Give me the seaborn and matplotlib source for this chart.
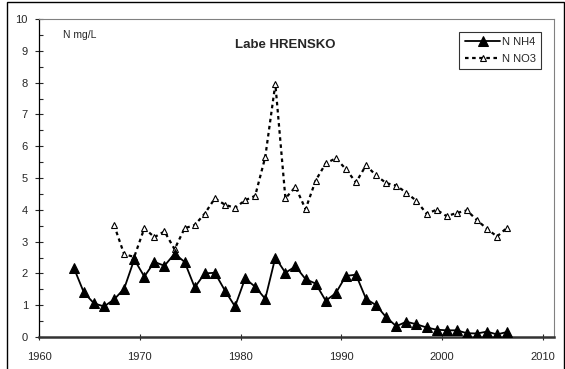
import matplotlib
matplotlib.use("Agg")
import matplotlib.pyplot as plt
from matplotlib.patches import Rectangle
from matplotlib.ticker import MultipleLocator
import seaborn as sns
import numpy as np

# ---- data ----
years_nh4 = list(range(1963, 2007))
nh4 = [2.18, 1.40, 1.06, 0.96, 1.18, 1.52, 2.44, 1.90, 2.36, 2.24,
       2.62, 2.36, 1.56, 2.00, 2.02, 1.46, 0.96, 1.84, 1.58, 1.20,
       2.50, 2.02, 2.22, 1.82, 1.68, 1.14, 1.38, 1.92, 1.96, 1.20,
       1.00, 0.62, 0.34, 0.48, 0.40, 0.30, 0.23, 0.21, 0.21, 0.12,
       0.11, 0.17, 0.08, 0.16]
years_no3 = list(range(1967, 2007))
no3 = [3.52, 2.60, 2.52, 3.42, 3.14, 3.32, 2.76, 3.42, 3.52, 3.88,
       4.36, 4.16, 4.06, 4.30, 4.44, 5.66, 7.96, 4.36, 4.72, 4.02,
       4.92, 5.46, 5.62, 5.28, 4.86, 5.40, 5.08, 4.84, 4.76, 4.54,
       4.28, 3.88, 4.00, 3.80, 3.90, 3.98, 3.68, 3.40, 3.16, 3.44]
x_offset = 0.45  # annual values plotted mid-year
y_ticks = list(range(0, 11))
x_ticks = [1960, 1970, 1980, 1990, 2000, 2010]

sns.set_style("white")
plt.rcParams['font.family'] = ['Liberation Sans', 'DejaVu Sans']

fig = plt.figure(figsize=(5.65, 3.69), dpi=100)
ax = fig.add_axes([39/565, 1-337/369, (554-39)/565, (337-19)/369])

sns.lineplot(x=np.array(years_no3) + x_offset, y=no3, ax=ax, color='black',
             linestyle=(0, (1.6, 1.6)), linewidth=1.6, marker='^',
             markersize=4.5, markerfacecolor='white', markeredgecolor='black',
             markeredgewidth=0.8, label='N NO3', zorder=2)
sns.lineplot(x=np.array(years_nh4) + x_offset, y=nh4, ax=ax, color='black',
             linewidth=1.3, marker='^', markersize=7.5,
             markerfacecolor='black', markeredgecolor='black',
             label='N NH4', zorder=3)

ax.set_xlim(1960, 2011.1)
ax.set_ylim(0, 10)
ax.set_xticks(x_ticks)
ax.set_yticks(y_ticks)
ax.yaxis.set_minor_locator(MultipleLocator(0.5))
ax.tick_params(axis='y', which='major', direction='inout', length=6, width=0.8,
               labelsize=8, pad=5, left=True)
ax.tick_params(axis='y', which='minor', direction='in', length=3, width=0.8, left=True)
ax.tick_params(axis='x', which='major', direction='inout', length=5, width=0.8,
               labelsize=8, pad=8, bottom=True)
ax.set_xlabel('')
ax.set_ylabel('')

for s in ['top', 'right']:
    ax.spines[s].set_color('#808080')
    ax.spines[s].set_linewidth(0.8)
ax.spines['left'].set_color('black')
ax.spines['left'].set_linewidth(0.9)
ax.spines['bottom'].set_color('#333333')
ax.spines['bottom'].set_linewidth(1.8)

ax.text(0.047, 0.95, 'N mg/L', transform=ax.transAxes, fontsize=7.5,
        ha='left', va='center')
ax.text(0.478, 0.918, 'Labe HRENSKO', transform=ax.transAxes, fontsize=9.5,
        fontweight='bold', ha='center', va='center')

h, l = ax.get_legend_handles_labels()
leg = ax.legend(h[::-1], l[::-1], loc='upper right', bbox_to_anchor=(0.975, 0.96),
                frameon=True, fancybox=False, edgecolor='black', fontsize=8,
                handlelength=3.2, handletextpad=0.1, borderpad=0.5,
                labelspacing=0.6, borderaxespad=0)
leg.get_frame().set_linewidth(0.8)

fig.patches.append(Rectangle((6.5/565, -0.05), (564-6.5)/565, 1.05 - 1.5/369,
                             transform=fig.transFigure, fill=False,
                             edgecolor='black', linewidth=1.0))

fig.savefig('out.png', dpi=100)
